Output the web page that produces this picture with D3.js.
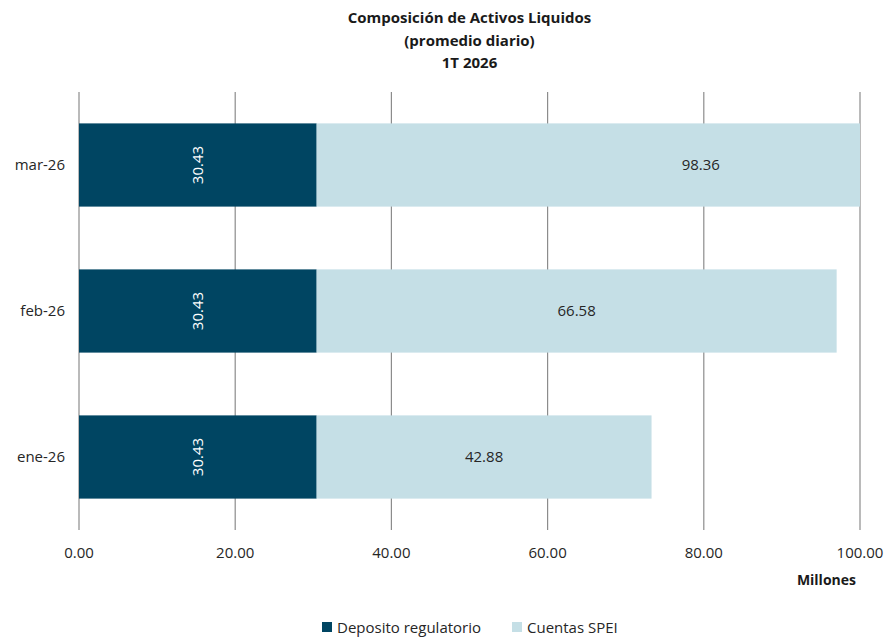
<!DOCTYPE html>
<html lang="es">
<head>
  <meta charset="utf-8">
  <script src="https://d3js.org/d3.v7.min.js"></script>
  <style>
    body { margin: 0; background: #fff; }
    text { font-family: "Open Sans", "Noto Sans", sans-serif; }
  </style>
</head>
<body>
  <div id="chart"></div>
  <script>
    // data
    const months = ["mar-26", "feb-26", "ene-26"];
    const deposito = [30.43, 30.43, 30.43];
    const spei = [98.36, 66.58, 42.88];
    const xTicks = [0, 20, 40, 60, 80, 100];
    const seriesNames = ["Deposito regulatorio", "Cuentas SPEI"];
    const colors = ["#004562", "#c5dfe6"];

    const W = 889, H = 641;
    const margin = {top: 92, right: 29, bottom: 111, left: 79};
    const width = W - margin.left - margin.right,
          height = H - margin.top - margin.bottom;
    const fs = "15px";

    const svg = d3.select("#chart").append("svg")
      .attr("width", W).attr("height", H);

    const g = svg.append("g")
      .attr("transform", `translate(${margin.left},${margin.top})`);

    const x = d3.scaleLinear().domain([0, 100]).range([0, width]);
    const y = d3.scaleBand().domain(months).range([0, height]).paddingInner(0.43).paddingOuter(0.215);

    // gridlines
    g.selectAll(".grid")
      .data(xTicks)
      .join("line")
        .attr("x1", d => x(d)).attr("x2", d => x(d))
        .attr("y1", 0).attr("y2", height)
        .attr("stroke", "#8c8c8c")
        .attr("stroke-width", 1.2);

    // tick labels
    g.selectAll(".tick-label")
      .data(xTicks)
      .join("text")
        .attr("x", d => x(d))
        .attr("y", height + 28)
        .attr("text-anchor", "middle")
        .style("font-size", fs)
        .attr("fill", "#262626")
        .text(d => d.toFixed(2));

    // stacked bars
    const rows = months.map((m, i) => ({m, a: deposito[i], b: spei[i]}));

    g.selectAll(".dep")
      .data(rows)
      .join("rect")
        .attr("x", x(0))
        .attr("y", d => y(d.m))
        .attr("width", d => x(d.a) - x(0))
        .attr("height", y.bandwidth())
        .attr("fill", colors[0]);

    g.selectAll(".spei")
      .data(rows)
      .join("rect")
        .attr("x", d => x(d.a))
        .attr("y", d => y(d.m))
        .attr("width", d => x(Math.min(100, d.a + d.b)) - x(d.a))
        .attr("height", y.bandwidth())
        .attr("fill", colors[1]);

    // labels deposito (rotated)
    g.selectAll(".dep-label")
      .data(rows)
      .join("text")
        .attr("transform", d => `translate(${x(d.a / 2)},${y(d.m) + y.bandwidth() / 2}) rotate(-90)`)
        .attr("text-anchor", "middle")
        .attr("dy", "0.35em")
        .style("font-size", fs)
        .attr("fill", "#ffffff")
        .text(d => d.a.toFixed(2));

    // labels spei
    g.selectAll(".spei-label")
      .data(rows)
      .join("text")
        .attr("x", d => x(d.a + d.b / 2))
        .attr("y", d => y(d.m) + y.bandwidth() / 2)
        .attr("text-anchor", "middle")
        .attr("dy", "0.35em")
        .style("font-size", fs)
        .attr("fill", "#262626")
        .text(d => d.b.toFixed(2));

    // category labels
    g.selectAll(".cat")
      .data(months)
      .join("text")
        .attr("x", -14)
        .attr("y", d => y(d) + y.bandwidth() / 2)
        .attr("dy", "0.35em")
        .attr("text-anchor", "end")
        .style("font-size", fs)
        .attr("fill", "#262626")
        .text(d => d);

    // axis title
    g.append("text")
      .attr("x", width - 4)
      .attr("y", height + 55)
      .attr("text-anchor", "end")
      .style("font-size", "14px")
      .style("font-weight", "bold")
      .attr("fill", "#1a1a1a")
      .text("Millones");

    // title
    const title = ["Composición de Activos Liquidos", "(promedio diario)", "1T 2026"];
    svg.selectAll(".title")
      .data(title)
      .join("text")
        .attr("x", margin.left + width / 2)
        .attr("y", (d, i) => 23 + i * 22.5)
        .attr("text-anchor", "middle")
        .style("font-size", "15px")
        .style("font-weight", "bold")
        .attr("fill", "#1a1a1a")
        .text(d => d);

    // legend
    const legend = svg.append("g").attr("transform", "translate(322,628)");
    const lx = [0, 190];
    seriesNames.forEach((s, i) => {
      legend.append("rect")
        .attr("x", lx[i]).attr("y", -6)
        .attr("width", 10).attr("height", 10)
        .attr("fill", colors[i]);
      legend.append("text")
        .attr("x", lx[i] + 15).attr("y", 0)
        .attr("dy", "0.35em")
        .style("font-size", fs)
        .attr("fill", "#262626")
        .text(s);
    });
  </script>
</body>
</html>
